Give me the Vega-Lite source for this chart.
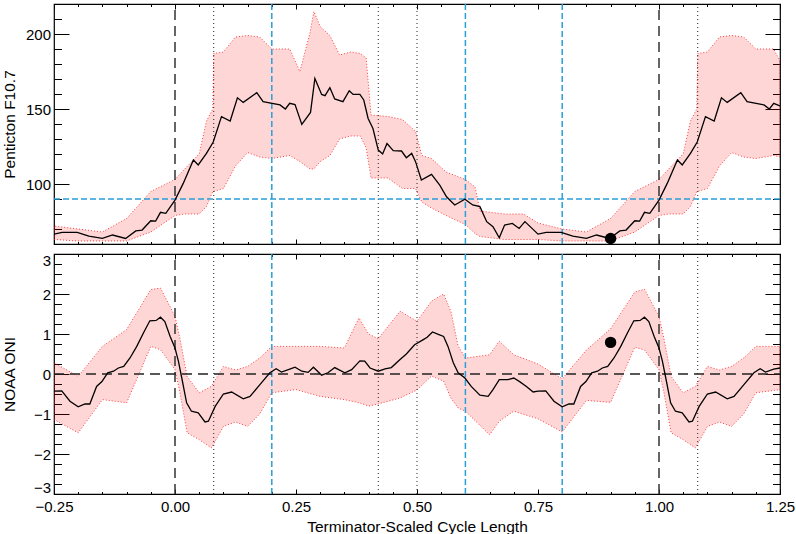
{
  "$schema": "https://vega.github.io/schema/vega-lite/v6.json",
  "background": "white",
  "padding": {"left": 1, "top": 2, "right": 2, "bottom": 0},
  "bounds": "flush",
  "spacing": 10,
  "datasets": {
    "top_mean": [
      {"x": -0.25, "v": 66.6}, {"x": -0.233, "v": 67.8}, {"x": -0.202, "v": 67.8}, {"x": -0.178, "v": 65.3},
      {"x": -0.15, "v": 63.7}, {"x": -0.129, "v": 66.0}, {"x": -0.102, "v": 63.7}, {"x": -0.081, "v": 68.7},
      {"x": -0.068, "v": 69.3}, {"x": -0.05, "v": 75.5}, {"x": -0.04, "v": 75.3}, {"x": -0.03, "v": 81.1},
      {"x": -0.019, "v": 80.4}, {"x": 0.0, "v": 89.3}, {"x": 0.017, "v": 100.4}, {"x": 0.038, "v": 116.0},
      {"x": 0.048, "v": 112.7}, {"x": 0.065, "v": 120.4}, {"x": 0.079, "v": 128.0}, {"x": 0.096, "v": 144.9},
      {"x": 0.114, "v": 142.0}, {"x": 0.129, "v": 157.5}, {"x": 0.141, "v": 154.4}, {"x": 0.169, "v": 160.9},
      {"x": 0.182, "v": 154.9}, {"x": 0.217, "v": 152.7}, {"x": 0.228, "v": 150.0}, {"x": 0.237, "v": 153.8},
      {"x": 0.248, "v": 153.0}, {"x": 0.262, "v": 139.7}, {"x": 0.28, "v": 147.7}, {"x": 0.289, "v": 170.4},
      {"x": 0.303, "v": 159.7}, {"x": 0.31, "v": 158.9}, {"x": 0.32, "v": 164.2}, {"x": 0.33, "v": 156.7},
      {"x": 0.347, "v": 154.9}, {"x": 0.36, "v": 162.2}, {"x": 0.368, "v": 159.7}, {"x": 0.382, "v": 159.7},
      {"x": 0.39, "v": 156.0}, {"x": 0.399, "v": 143.7}, {"x": 0.409, "v": 137.0}, {"x": 0.42, "v": 122.6},
      {"x": 0.429, "v": 120.0}, {"x": 0.438, "v": 127.0}, {"x": 0.451, "v": 122.2}, {"x": 0.468, "v": 122.0},
      {"x": 0.478, "v": 117.5}, {"x": 0.489, "v": 120.4}, {"x": 0.497, "v": 114.9}, {"x": 0.509, "v": 102.7},
      {"x": 0.53, "v": 106.4}, {"x": 0.547, "v": 99.3}, {"x": 0.561, "v": 91.5}, {"x": 0.578, "v": 86.0},
      {"x": 0.599, "v": 89.8}, {"x": 0.615, "v": 86.0}, {"x": 0.63, "v": 84.9}, {"x": 0.644, "v": 74.9},
      {"x": 0.657, "v": 71.5}, {"x": 0.67, "v": 64.2}, {"x": 0.681, "v": 72.6}, {"x": 0.697, "v": 73.7},
      {"x": 0.711, "v": 70.4}, {"x": 0.723, "v": 74.9}, {"x": 0.736, "v": 70.9}, {"x": 0.75, "v": 66.6},
      {"x": 0.767, "v": 67.8}, {"x": 0.798, "v": 67.8}, {"x": 0.822, "v": 65.3}, {"x": 0.85, "v": 63.7},
      {"x": 0.871, "v": 66.0}, {"x": 0.898, "v": 63.7}, {"x": 0.919, "v": 68.7}, {"x": 0.932, "v": 69.3},
      {"x": 0.95, "v": 75.5}, {"x": 0.96, "v": 75.3}, {"x": 0.97, "v": 81.1}, {"x": 0.981, "v": 80.4},
      {"x": 1.0, "v": 89.3}, {"x": 1.017, "v": 100.4}, {"x": 1.038, "v": 116.0}, {"x": 1.048, "v": 112.7},
      {"x": 1.065, "v": 120.4}, {"x": 1.079, "v": 128.0}, {"x": 1.096, "v": 144.9}, {"x": 1.114, "v": 142.0},
      {"x": 1.129, "v": 157.5}, {"x": 1.141, "v": 154.4}, {"x": 1.169, "v": 160.9}, {"x": 1.182, "v": 154.9},
      {"x": 1.217, "v": 152.7}, {"x": 1.228, "v": 150.0}, {"x": 1.237, "v": 153.8}, {"x": 1.25, "v": 152.0}
    ],
    "top_band": [
      {"x": -0.25, "lo": 63, "hi": 72}, {"x": -0.2, "lo": 62, "hi": 70}, {"x": -0.15, "lo": 62, "hi": 68},
      {"x": -0.1, "lo": 62, "hi": 77}, {"x": -0.05, "lo": 68, "hi": 95}, {"x": 0.0, "lo": 79, "hi": 103},
      {"x": 0.02, "lo": 80, "hi": 110}, {"x": 0.05, "lo": 80, "hi": 120}, {"x": 0.065, "lo": 85, "hi": 142},
      {"x": 0.078, "lo": 95, "hi": 150}, {"x": 0.08, "lo": 95, "hi": 187}, {"x": 0.1, "lo": 97, "hi": 188},
      {"x": 0.125, "lo": 112, "hi": 198}, {"x": 0.15, "lo": 121, "hi": 199}, {"x": 0.175, "lo": 118, "hi": 198},
      {"x": 0.2, "lo": 117, "hi": 190}, {"x": 0.237, "lo": 119, "hi": 190}, {"x": 0.258, "lo": 115, "hi": 175},
      {"x": 0.279, "lo": 110, "hi": 201}, {"x": 0.287, "lo": 110, "hi": 215}, {"x": 0.3, "lo": 115, "hi": 205},
      {"x": 0.32, "lo": 119, "hi": 199}, {"x": 0.34, "lo": 130, "hi": 186}, {"x": 0.363, "lo": 132, "hi": 188},
      {"x": 0.383, "lo": 132, "hi": 187}, {"x": 0.395, "lo": 124, "hi": 184}, {"x": 0.405, "lo": 104, "hi": 146},
      {"x": 0.44, "lo": 104, "hi": 145}, {"x": 0.47, "lo": 97, "hi": 143}, {"x": 0.497, "lo": 97, "hi": 135},
      {"x": 0.51, "lo": 88, "hi": 119}, {"x": 0.53, "lo": 84, "hi": 117}, {"x": 0.56, "lo": 79, "hi": 108},
      {"x": 0.6, "lo": 73, "hi": 103}, {"x": 0.62, "lo": 67, "hi": 98}, {"x": 0.63, "lo": 65, "hi": 82},
      {"x": 0.68, "lo": 63, "hi": 80}, {"x": 0.72, "lo": 63, "hi": 80}, {"x": 0.75, "lo": 63, "hi": 74},
      {"x": 0.8, "lo": 62, "hi": 70}, {"x": 0.85, "lo": 62, "hi": 68}, {"x": 0.9, "lo": 62, "hi": 77},
      {"x": 0.95, "lo": 68, "hi": 95}, {"x": 1.0, "lo": 79, "hi": 103}, {"x": 1.02, "lo": 80, "hi": 110},
      {"x": 1.05, "lo": 80, "hi": 120}, {"x": 1.065, "lo": 85, "hi": 142}, {"x": 1.078, "lo": 95, "hi": 150},
      {"x": 1.08, "lo": 95, "hi": 187}, {"x": 1.1, "lo": 97, "hi": 188}, {"x": 1.125, "lo": 112, "hi": 198},
      {"x": 1.15, "lo": 121, "hi": 199}, {"x": 1.175, "lo": 118, "hi": 198}, {"x": 1.2, "lo": 117, "hi": 190},
      {"x": 1.237, "lo": 119, "hi": 190}, {"x": 1.25, "lo": 118, "hi": 182}
    ],
    "bot_mean": [
      {"x": -0.25, "v": -0.43}, {"x": -0.234, "v": -0.42}, {"x": -0.217, "v": -0.68}, {"x": -0.2, "v": -0.82},
      {"x": -0.186, "v": -0.75}, {"x": -0.176, "v": -0.75}, {"x": -0.162, "v": -0.31}, {"x": -0.151, "v": -0.19},
      {"x": -0.139, "v": 0.03}, {"x": -0.127, "v": 0.07}, {"x": -0.117, "v": 0.15}, {"x": -0.106, "v": 0.19},
      {"x": -0.093, "v": 0.4}, {"x": -0.079, "v": 0.69}, {"x": -0.065, "v": 1.03}, {"x": -0.052, "v": 1.33},
      {"x": -0.039, "v": 1.34}, {"x": -0.03, "v": 1.42}, {"x": -0.021, "v": 1.31}, {"x": -0.01, "v": 0.94},
      {"x": 0.0, "v": 0.65}, {"x": 0.007, "v": 0.32}, {"x": 0.014, "v": -0.1}, {"x": 0.024, "v": -0.72},
      {"x": 0.034, "v": -0.93}, {"x": 0.048, "v": -0.97}, {"x": 0.062, "v": -1.2}, {"x": 0.069, "v": -1.18},
      {"x": 0.083, "v": -0.81}, {"x": 0.1, "v": -0.5}, {"x": 0.117, "v": -0.45}, {"x": 0.141, "v": -0.62},
      {"x": 0.155, "v": -0.56}, {"x": 0.175, "v": -0.27}, {"x": 0.196, "v": 0.03}, {"x": 0.209, "v": 0.13},
      {"x": 0.22, "v": 0.05}, {"x": 0.237, "v": 0.12}, {"x": 0.248, "v": 0.17}, {"x": 0.262, "v": 0.07},
      {"x": 0.275, "v": 0.04}, {"x": 0.286, "v": 0.17}, {"x": 0.303, "v": -0.03}, {"x": 0.316, "v": 0.03},
      {"x": 0.33, "v": 0.16}, {"x": 0.351, "v": 0.03}, {"x": 0.365, "v": 0.11}, {"x": 0.382, "v": 0.33},
      {"x": 0.392, "v": 0.32}, {"x": 0.403, "v": 0.15}, {"x": 0.42, "v": 0.07}, {"x": 0.434, "v": 0.13},
      {"x": 0.447, "v": 0.16}, {"x": 0.465, "v": 0.36}, {"x": 0.478, "v": 0.5}, {"x": 0.495, "v": 0.73},
      {"x": 0.513, "v": 0.86}, {"x": 0.521, "v": 0.92}, {"x": 0.532, "v": 1.05}, {"x": 0.544, "v": 0.99},
      {"x": 0.555, "v": 0.94}, {"x": 0.564, "v": 0.69}, {"x": 0.575, "v": 0.28}, {"x": 0.585, "v": 0.03},
      {"x": 0.599, "v": -0.1}, {"x": 0.612, "v": -0.31}, {"x": 0.63, "v": -0.53}, {"x": 0.647, "v": -0.56},
      {"x": 0.657, "v": -0.39}, {"x": 0.67, "v": -0.14}, {"x": 0.688, "v": -0.14}, {"x": 0.7, "v": -0.1},
      {"x": 0.712, "v": -0.19}, {"x": 0.726, "v": -0.31}, {"x": 0.74, "v": -0.45}, {"x": 0.75, "v": -0.43},
      {"x": 0.766, "v": -0.42}, {"x": 0.783, "v": -0.68}, {"x": 0.8, "v": -0.82}, {"x": 0.814, "v": -0.75},
      {"x": 0.824, "v": -0.75}, {"x": 0.838, "v": -0.31}, {"x": 0.849, "v": -0.19}, {"x": 0.861, "v": 0.03},
      {"x": 0.873, "v": 0.07}, {"x": 0.883, "v": 0.15}, {"x": 0.894, "v": 0.19}, {"x": 0.907, "v": 0.4},
      {"x": 0.921, "v": 0.69}, {"x": 0.935, "v": 1.03}, {"x": 0.948, "v": 1.33}, {"x": 0.961, "v": 1.34},
      {"x": 0.97, "v": 1.42}, {"x": 0.979, "v": 1.31}, {"x": 0.99, "v": 0.94}, {"x": 1.0, "v": 0.65},
      {"x": 1.007, "v": 0.32}, {"x": 1.014, "v": -0.1}, {"x": 1.024, "v": -0.72}, {"x": 1.034, "v": -0.93},
      {"x": 1.048, "v": -0.97}, {"x": 1.062, "v": -1.2}, {"x": 1.069, "v": -1.18}, {"x": 1.083, "v": -0.81},
      {"x": 1.1, "v": -0.5}, {"x": 1.117, "v": -0.45}, {"x": 1.141, "v": -0.62}, {"x": 1.155, "v": -0.56},
      {"x": 1.175, "v": -0.27}, {"x": 1.196, "v": 0.03}, {"x": 1.209, "v": 0.13}, {"x": 1.22, "v": 0.05},
      {"x": 1.237, "v": 0.12}, {"x": 1.25, "v": 0.15}
    ],
    "bot_band": [
      {"x": -0.25, "lo": -1.14, "hi": 0.28}, {"x": -0.2, "lo": -1.47, "hi": -0.06}, {"x": -0.15, "lo": -0.64, "hi": 0.69},
      {"x": -0.1, "lo": -0.72, "hi": 1.11}, {"x": -0.05, "lo": 0.69, "hi": 2.11}, {"x": -0.03, "lo": 0.61, "hi": 2.15},
      {"x": 0.0, "lo": 0.11, "hi": 1.44}, {"x": 0.01, "lo": -0.45, "hi": 0.9}, {"x": 0.025, "lo": -1.47, "hi": -0.06},
      {"x": 0.05, "lo": -1.64, "hi": -0.47}, {"x": 0.075, "lo": -1.85, "hi": -0.31}, {"x": 0.1, "lo": -1.31, "hi": 0.19},
      {"x": 0.125, "lo": -1.2, "hi": 0.1}, {"x": 0.15, "lo": -1.31, "hi": 0.19}, {"x": 0.175, "lo": -1.0, "hi": 0.4},
      {"x": 0.2, "lo": -0.47, "hi": 0.69}, {"x": 0.25, "lo": -0.39, "hi": 0.69}, {"x": 0.3, "lo": -0.56, "hi": 0.69},
      {"x": 0.35, "lo": -0.64, "hi": 0.65}, {"x": 0.38, "lo": -0.72, "hi": 1.4}, {"x": 0.4, "lo": -0.8, "hi": 1.0},
      {"x": 0.42, "lo": -0.75, "hi": 0.88}, {"x": 0.465, "lo": -0.6, "hi": 1.57}, {"x": 0.5, "lo": -0.4, "hi": 1.32},
      {"x": 0.53, "lo": -0.05, "hi": 1.82}, {"x": 0.555, "lo": -0.18, "hi": 2.0}, {"x": 0.57, "lo": -0.6, "hi": 1.57},
      {"x": 0.585, "lo": -0.85, "hi": 0.7}, {"x": 0.6, "lo": -0.93, "hi": 0.4}, {"x": 0.65, "lo": -1.52, "hi": 0.48},
      {"x": 0.67, "lo": -1.18, "hi": 0.82}, {"x": 0.7, "lo": -0.93, "hi": 0.48}, {"x": 0.75, "lo": -1.12, "hi": 0.25},
      {"x": 0.8, "lo": -1.45, "hi": -0.12}, {"x": 0.85, "lo": -0.66, "hi": 0.6}, {"x": 0.9, "lo": -0.71, "hi": 1.13},
      {"x": 0.95, "lo": 0.67, "hi": 2.05}, {"x": 0.97, "lo": 0.6, "hi": 2.12}, {"x": 1.0, "lo": 0.11, "hi": 1.44},
      {"x": 1.01, "lo": -0.45, "hi": 0.9}, {"x": 1.025, "lo": -1.47, "hi": -0.06}, {"x": 1.05, "lo": -1.64, "hi": -0.47},
      {"x": 1.075, "lo": -1.85, "hi": -0.31}, {"x": 1.1, "lo": -1.31, "hi": 0.19}, {"x": 1.125, "lo": -1.2, "hi": 0.1},
      {"x": 1.15, "lo": -1.31, "hi": 0.19}, {"x": 1.175, "lo": -1.0, "hi": 0.4}, {"x": 1.2, "lo": -0.47, "hi": 0.69},
      {"x": 1.25, "lo": -0.39, "hi": 0.69}
    ],
    "vlines": [
      {"x": 0.0, "kind": "dash"}, {"x": 1.0, "kind": "dash"},
      {"x": 0.08, "kind": "dot"}, {"x": 0.42, "kind": "dot"}, {"x": 0.5, "kind": "dot"}, {"x": 1.08, "kind": "dot"},
      {"x": 0.2, "kind": "blue"}, {"x": 0.6, "kind": "blue"}, {"x": 0.8, "kind": "blue"}
    ],
    "top_hline": [{"v": 90}],
    "bot_hline": [{"v": 0}],
    "top_dot": [{"x": 0.9, "v": 63.7}],
    "bot_dot": [{"x": 0.9, "v": 0.79}]
  },
  "vconcat": [
    {
      "width": 726,
      "height": 240,
      "resolve": {"axis": {"x": "independent", "y": "independent"}},
      "layer": [
        {
          "data": {"name": "top_band"},
          "mark": {"type": "area", "fill": "#ff0000", "fillOpacity": 0.16, "stroke": "#ff0000", "strokeOpacity": 0.75, "strokeWidth": 1, "strokeDash": [1, 2], "clip": true},
          "encoding": {
            "x": {"field": "x", "type": "quantitative", "scale": {"domain": [-0.25, 1.25], "nice": false, "zero": false},
              "axis": {"orient": "bottom", "values": [-0.25, 0, 0.25, 0.5, 0.75, 1, 1.25], "offset": -5, "tickSize": 5, "labels": false, "title": null}},
            "y": {"field": "lo", "type": "quantitative", "scale": {"domain": [60, 220], "nice": false, "zero": false},
              "axis": {"orient": "left", "values": [100, 150, 200], "offset": -15, "tickSize": 15, "labelPadding": 3.5, "title": "Penticton F10.7", "titleX": -54.8, "titleBaseline": "alphabetic"}},
            "y2": {"field": "hi"}
          }
        },
        {
          "data": {"name": "vlines"},
          "transform": [{"filter": "datum.kind === 'dash'"}],
          "mark": {"type": "rule", "color": "#333333", "strokeWidth": 1.5, "strokeDash": [10, 6]},
          "encoding": {
            "x": {"field": "x", "type": "quantitative", "scale": {"domain": [-0.25, 1.25], "nice": false, "zero": false},
              "axis": {"orient": "top", "values": [-0.25, 0, 0.25, 0.5, 0.75, 1, 1.25], "offset": -5, "tickSize": 5, "labels": false, "title": null}},
            "y": {"datum": 60, "type": "quantitative", "scale": {"domain": [60, 220], "nice": false, "zero": false},
              "axis": {"orient": "right", "values": [100, 150, 200], "offset": -15, "tickSize": 15, "labels": false, "title": null}},
            "y2": {"datum": 220}
          }
        },
        {
          "data": {"name": "vlines"},
          "transform": [{"filter": "datum.kind === 'dot'"}],
          "mark": {"type": "rule", "color": "#222222", "strokeWidth": 1, "strokeDash": [1, 3]},
          "encoding": {
            "x": {"field": "x", "type": "quantitative", "scale": {"domain": [-0.25, 1.25], "nice": false, "zero": false},
              "axis": {"orient": "top", "values": [-0.25, -0.2, -0.15, -0.1, -0.05, 0, 0.05, 0.1, 0.15, 0.2, 0.25, 0.3, 0.35, 0.4, 0.45, 0.5, 0.55, 0.6, 0.65, 0.7, 0.75, 0.8, 0.85, 0.9, 0.95, 1, 1.05, 1.1, 1.15, 1.2, 1.25], "offset": -2.5, "tickSize": 2.5, "labels": false, "title": null}},
            "y": {"datum": 60, "type": "quantitative", "scale": {"domain": [60, 220], "nice": false, "zero": false},
              "axis": {"orient": "right", "values": [60, 70, 80, 90, 100, 110, 120, 130, 140, 150, 160, 170, 180, 190, 200, 210, 220], "offset": -7.5, "tickSize": 7.5, "labels": false, "title": null}},
            "y2": {"datum": 220}
          }
        },
        {
          "data": {"name": "vlines"},
          "transform": [{"filter": "datum.kind === 'blue'"}],
          "mark": {"type": "rule", "color": "#2a9fd6", "strokeWidth": 1.5, "strokeDash": [6, 3]},
          "encoding": {
            "x": {"field": "x", "type": "quantitative", "scale": {"domain": [-0.25, 1.25], "nice": false, "zero": false}, "axis": null},
            "y": {"datum": 60, "type": "quantitative", "scale": {"domain": [60, 220], "nice": false, "zero": false}, "axis": null},
            "y2": {"datum": 220}
          }
        },
        {
          "data": {"name": "top_hline"},
          "mark": {"type": "rule", "color": "#2a9fd6", "strokeWidth": 1.5, "strokeDash": [6, 3]},
          "encoding": {
            "x": {"datum": -0.25, "type": "quantitative", "scale": {"domain": [-0.25, 1.25], "nice": false, "zero": false}, "axis": null},
            "x2": {"datum": 1.25},
            "y": {"field": "v", "type": "quantitative", "scale": {"domain": [60, 220], "nice": false, "zero": false}, "axis": null}
          }
        },
        {
          "data": {"name": "top_mean"},
          "mark": {"type": "line", "color": "#000000", "strokeWidth": 1.3, "clip": true},
          "encoding": {
            "x": {"field": "x", "type": "quantitative", "scale": {"domain": [-0.25, 1.25], "nice": false, "zero": false},
              "axis": {"orient": "bottom", "values": [-0.25, -0.2, -0.15, -0.1, -0.05, 0, 0.05, 0.1, 0.15, 0.2, 0.25, 0.3, 0.35, 0.4, 0.45, 0.5, 0.55, 0.6, 0.65, 0.7, 0.75, 0.8, 0.85, 0.9, 0.95, 1, 1.05, 1.1, 1.15, 1.2, 1.25], "offset": -2.5, "tickSize": 2.5, "labels": false, "title": null}},
            "y": {"field": "v", "type": "quantitative", "scale": {"domain": [60, 220], "nice": false, "zero": false},
              "axis": {"orient": "left", "values": [60, 70, 80, 90, 100, 110, 120, 130, 140, 150, 160, 170, 180, 190, 200, 210, 220], "offset": -7.5, "tickSize": 7.5, "labels": false, "title": null}}
          }
        },
        {
          "data": {"name": "top_dot"},
          "mark": {"type": "circle", "color": "#000000", "opacity": 1, "size": 130},
          "encoding": {
            "x": {"field": "x", "type": "quantitative", "scale": {"domain": [-0.25, 1.25], "nice": false, "zero": false}, "axis": null},
            "y": {"field": "v", "type": "quantitative", "scale": {"domain": [60, 220], "nice": false, "zero": false}, "axis": null}
          }
        }
      ]
    },
    {
      "width": 726,
      "height": 240,
      "resolve": {"axis": {"x": "independent", "y": "independent"}},
      "layer": [
        {
          "data": {"name": "bot_band"},
          "mark": {"type": "area", "fill": "#ff0000", "fillOpacity": 0.16, "stroke": "#ff0000", "strokeOpacity": 0.75, "strokeWidth": 1, "strokeDash": [1, 2], "clip": true},
          "encoding": {
            "x": {"field": "x", "type": "quantitative", "scale": {"domain": [-0.25, 1.25], "nice": false, "zero": false},
              "axis": {"orient": "bottom", "values": [-0.25, 0, 0.25, 0.5, 0.75, 1, 1.25], "format": ".2f", "offset": -5, "tickSize": 5, "labelPadding": 5, "title": "Terminator-Scaled Cycle Length", "titlePadding": 5}},
            "y": {"field": "lo", "type": "quantitative", "scale": {"domain": [-3, 3], "nice": false, "zero": false},
              "axis": {"orient": "left", "values": [-3, -2, -1, 0, 1, 2, 3], "offset": -15, "tickSize": 15, "labelPadding": 3.5, "labelFlush": true, "labelFlushOffset": 1, "title": "NOAA ONI", "titleX": -54.8, "titleBaseline": "alphabetic"}},
            "y2": {"field": "hi"}
          }
        },
        {
          "data": {"name": "vlines"},
          "transform": [{"filter": "datum.kind === 'dash'"}],
          "mark": {"type": "rule", "color": "#333333", "strokeWidth": 1.5, "strokeDash": [10, 6]},
          "encoding": {
            "x": {"field": "x", "type": "quantitative", "scale": {"domain": [-0.25, 1.25], "nice": false, "zero": false},
              "axis": {"orient": "top", "values": [-0.25, 0, 0.25, 0.5, 0.75, 1, 1.25], "offset": -5, "tickSize": 5, "labels": false, "title": null}},
            "y": {"datum": -3, "type": "quantitative", "scale": {"domain": [-3, 3], "nice": false, "zero": false},
              "axis": {"orient": "right", "values": [-3, -2, -1, 0, 1, 2, 3], "offset": -15, "tickSize": 15, "labels": false, "title": null}},
            "y2": {"datum": 3}
          }
        },
        {
          "data": {"name": "vlines"},
          "transform": [{"filter": "datum.kind === 'dot'"}],
          "mark": {"type": "rule", "color": "#222222", "strokeWidth": 1, "strokeDash": [1, 3]},
          "encoding": {
            "x": {"field": "x", "type": "quantitative", "scale": {"domain": [-0.25, 1.25], "nice": false, "zero": false},
              "axis": {"orient": "top", "values": [-0.25, -0.2, -0.15, -0.1, -0.05, 0, 0.05, 0.1, 0.15, 0.2, 0.25, 0.3, 0.35, 0.4, 0.45, 0.5, 0.55, 0.6, 0.65, 0.7, 0.75, 0.8, 0.85, 0.9, 0.95, 1, 1.05, 1.1, 1.15, 1.2, 1.25], "offset": -2.5, "tickSize": 2.5, "labels": false, "title": null}},
            "y": {"datum": -3, "type": "quantitative", "scale": {"domain": [-3, 3], "nice": false, "zero": false},
              "axis": {"orient": "right", "values": [-3, -2.75, -2.5, -2.25, -2, -1.75, -1.5, -1.25, -1, -0.75, -0.5, -0.25, 0, 0.25, 0.5, 0.75, 1, 1.25, 1.5, 1.75, 2, 2.25, 2.5, 2.75, 3], "offset": -7.5, "tickSize": 7.5, "labels": false, "title": null}},
            "y2": {"datum": 3}
          }
        },
        {
          "data": {"name": "vlines"},
          "transform": [{"filter": "datum.kind === 'blue'"}],
          "mark": {"type": "rule", "color": "#2a9fd6", "strokeWidth": 1.5, "strokeDash": [6, 3]},
          "encoding": {
            "x": {"field": "x", "type": "quantitative", "scale": {"domain": [-0.25, 1.25], "nice": false, "zero": false}, "axis": null},
            "y": {"datum": -3, "type": "quantitative", "scale": {"domain": [-3, 3], "nice": false, "zero": false}, "axis": null},
            "y2": {"datum": 3}
          }
        },
        {
          "data": {"name": "bot_hline"},
          "mark": {"type": "rule", "color": "#222222", "strokeWidth": 1.4, "strokeDash": [10, 6]},
          "encoding": {
            "x": {"datum": -0.25, "type": "quantitative", "scale": {"domain": [-0.25, 1.25], "nice": false, "zero": false}, "axis": null},
            "x2": {"datum": 1.25},
            "y": {"field": "v", "type": "quantitative", "scale": {"domain": [-3, 3], "nice": false, "zero": false}, "axis": null}
          }
        },
        {
          "data": {"name": "bot_mean"},
          "mark": {"type": "line", "color": "#000000", "strokeWidth": 1.3, "clip": true},
          "encoding": {
            "x": {"field": "x", "type": "quantitative", "scale": {"domain": [-0.25, 1.25], "nice": false, "zero": false},
              "axis": {"orient": "bottom", "values": [-0.25, -0.2, -0.15, -0.1, -0.05, 0, 0.05, 0.1, 0.15, 0.2, 0.25, 0.3, 0.35, 0.4, 0.45, 0.5, 0.55, 0.6, 0.65, 0.7, 0.75, 0.8, 0.85, 0.9, 0.95, 1, 1.05, 1.1, 1.15, 1.2, 1.25], "offset": -2.5, "tickSize": 2.5, "labels": false, "title": null}},
            "y": {"field": "v", "type": "quantitative", "scale": {"domain": [-3, 3], "nice": false, "zero": false},
              "axis": {"orient": "left", "values": [-3, -2.75, -2.5, -2.25, -2, -1.75, -1.5, -1.25, -1, -0.75, -0.5, -0.25, 0, 0.25, 0.5, 0.75, 1, 1.25, 1.5, 1.75, 2, 2.25, 2.5, 2.75, 3], "offset": -7.5, "tickSize": 7.5, "labels": false, "title": null}}
          }
        },
        {
          "data": {"name": "bot_dot"},
          "mark": {"type": "circle", "color": "#000000", "opacity": 1, "size": 130},
          "encoding": {
            "x": {"field": "x", "type": "quantitative", "scale": {"domain": [-0.25, 1.25], "nice": false, "zero": false}, "axis": null},
            "y": {"field": "v", "type": "quantitative", "scale": {"domain": [-3, 3], "nice": false, "zero": false}, "axis": null}
          }
        }
      ]
    }
  ],
  "config": {
    "font": "Liberation Sans",
    "view": {"stroke": "#000000", "strokeWidth": 1.2},
    "axis": {
      "domain": false,
      "grid": false,
      "labelFlush": false,
      "labelOverlap": false,
      "tickColor": "#000000",
      "tickWidth": 1,
      "labelFont": "Liberation Sans",
      "labelFontSize": 15,
      "labelColor": "#000000",
      "titleFont": "Liberation Sans",
      "titleFontSize": 15.5,
      "titleFontWeight": "normal",
      "titleColor": "#000000"
    }
  }
}
